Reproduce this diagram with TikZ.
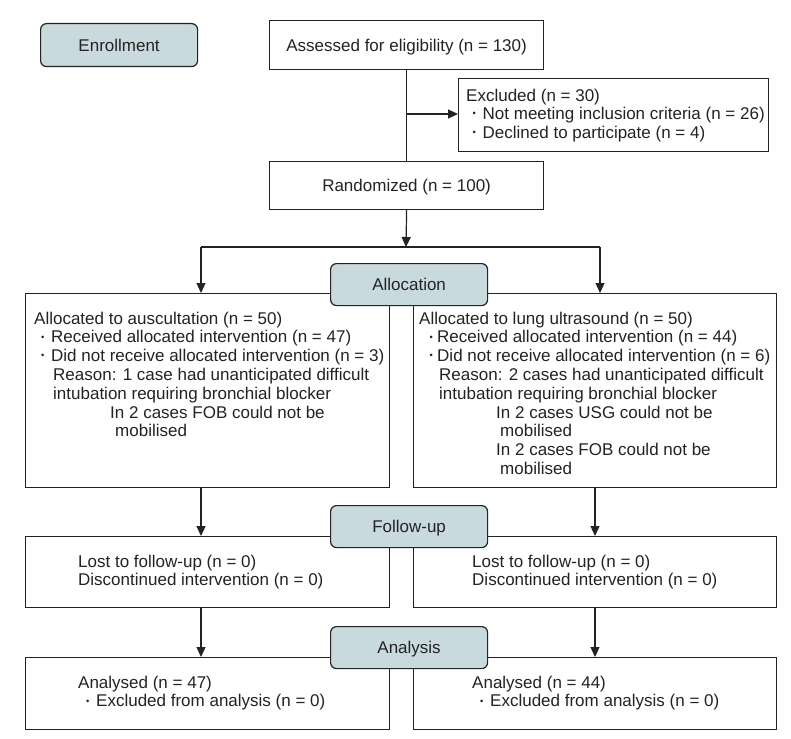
\documentclass[tikz,border=0pt]{standalone}
\usepackage{fontspec}
\setmainfont{Liberation Sans}
\usetikzlibrary{arrows.meta}
\definecolor{lblfill}{RGB}{200,218,221}
\definecolor{ink}{RGB}{35,35,35}
\newcommand{\dotmark}{\raisebox{2.8pt}{\scalebox{0.55}{\textbullet}}}
\newcommand{\bl}{\makebox[17pt][c]{\dotmark}}
\begin{document}
\begin{tikzpicture}[x=1pt,y=-1pt,
  every node/.style={font=\fontsize{17pt}{18.8pt}\selectfont, text=ink},
  box/.style={draw=ink, line width=1.2pt, fill=white, anchor=north west, inner sep=0pt},
  lbl/.style={draw=ink, line width=1.2pt, fill=lblfill, rounded corners=6pt, anchor=north west, inner sep=0pt},
  txt/.style={anchor=north west, inner sep=0pt, align=left},
  ctxt/.style={inner sep=0pt, text height=12.2pt, text depth=0pt},
  conn/.style={draw=ink, line width=1.2pt},
  arr/.style={conn, -{Triangle[length=10pt,width=9pt]}}
]
\useasboundingbox (0,0) rectangle (791,738);

% top boxes
\node[box, minimum width=274pt, minimum height=49pt] (assess) at (269,20) {};
\node[ctxt] (assesst) at (assess.center) {Assessed for eligibility (n = 130)};
\node[box, minimum width=310pt, minimum height=73pt] (excl) at (458,78) {};
\node[txt] (exclt) at (466,101-13.2) {\strut Excluded (n = 30)\\[-0.2pt]
\hspace*{-0.5pt}\bl Not meeting inclusion criteria (n = 26)\\[-0.2pt]
\hspace*{-0.5pt}\bl Declined to participate (n = 4)};
\node[box, minimum width=274pt, minimum height=48pt] (rand) at (269,161) {};
\node[ctxt] (randt) at (rand.center) {Randomized (n = 100)};

% allocation boxes
\node[box, minimum width=364pt, minimum height=194pt] (allocL) at (25,293) {};
\node[txt] (allocLt) at (34,324-13.2) {\strut Allocated to auscultation (n = 50)\\
\bl Received allocated intervention (n = 47)\\
\bl Did not receive allocated intervention (n = 3)\\
\hspace*{19pt}Reason: 1 case had unanticipated difficult\\
\hspace*{19pt}intubation requiring bronchial blocker\\
\hspace*{76pt}In 2 cases FOB could not be\\
\hspace*{81pt}mobilised};
\node[box, minimum width=363pt, minimum height=194pt] (allocR) at (413,293) {};
\node[txt] (allocRt) at (419,324-13.2) {\strut Allocated to lung ultrasound (n = 50)\\
\hspace*{6pt}\makebox[12pt][c]{\dotmark}Received allocated intervention (n = 44)\\
\hspace*{6pt}\makebox[12pt][c]{\dotmark}Did not receive allocated intervention (n = 6)\\
\hspace*{20pt}Reason: 2 cases had unanticipated difficult\\
\hspace*{20pt}intubation requiring bronchial blocker\\
\hspace*{77pt}In 2 cases USG could not be\\
\hspace*{81pt}mobilised\\
\hspace*{77pt}In 2 cases FOB could not be\\
\hspace*{81pt}mobilised};

% follow-up boxes
\node[box, minimum width=364pt, minimum height=71pt] (folL) at (25,536) {};
\node[txt] (folLt) at (78,567-13.2) {\strut Lost to follow-up (n = 0)\\Discontinued intervention (n = 0)};
\node[box, minimum width=363pt, minimum height=71pt] (folR) at (413,536) {};
\node[txt] (folRt) at (472,567-13.2) {\strut Lost to follow-up (n = 0)\\Discontinued intervention (n = 0)};

% analysis boxes
\node[box, minimum width=364pt, minimum height=72pt] (anaL) at (25,657) {};
\node[txt] (anaLt) at (78,688-13.2) {\strut Analysed (n = 47)\\\hspace*{1pt}\bl Excluded from analysis (n = 0)};
\node[box, minimum width=363pt, minimum height=72pt] (anaR) at (413,657) {};
\node[txt] (anaRt) at (472,688-13.2) {\strut Analysed (n = 44)\\\hspace*{1pt}\bl Excluded from analysis (n = 0)};

% stage labels
\node[lbl, minimum width=157pt, minimum height=43pt] (enr) at (40,23) {};
\node[ctxt] (enrt) at (enr.center) {Enrollment};
\node[lbl, minimum width=157pt, minimum height=42pt] (alloc) at (330,263) {};
\node[ctxt] (alloct) at (alloc.center) {Allocation};
\node[lbl, minimum width=157pt, minimum height=42pt] (fol) at (330,505) {};
\node[ctxt] (folt) at (fol.center) {Follow-up};
\node[lbl, minimum width=157pt, minimum height=42pt] (ana) at (330,626) {};
\node[ctxt] (anat) at (ana.center) {Analysis};

% connectors
\coordinate (exj) at (406,114);
\coordinate (sp) at (406,247);
\coordinate (jl) at (201,247);
\coordinate (jr) at (600,247);
\draw[conn] (assess.south) -- (rand.north);
\draw[arr] (exj) -- (excl.west |- exj);
\draw[arr] (rand.south) -- (sp);
\draw[conn] (jl) -- (jr);
\draw[arr] (jl) -- (jl |- allocL.north);
\draw[arr] (jr) -- (jr |- allocR.north);
\coordinate (l1) at (201,487);
\coordinate (r1) at (595,487);
\draw[arr] (l1) -- (l1 |- folL.north);
\draw[arr] (r1) -- (r1 |- folR.north);
\coordinate (l2) at (201,607);
\coordinate (r2) at (595,607);
\draw[arr] (l2) -- (l2 |- anaL.north);
\draw[arr] (r2) -- (r2 |- anaR.north);
\end{tikzpicture}
\end{document}
